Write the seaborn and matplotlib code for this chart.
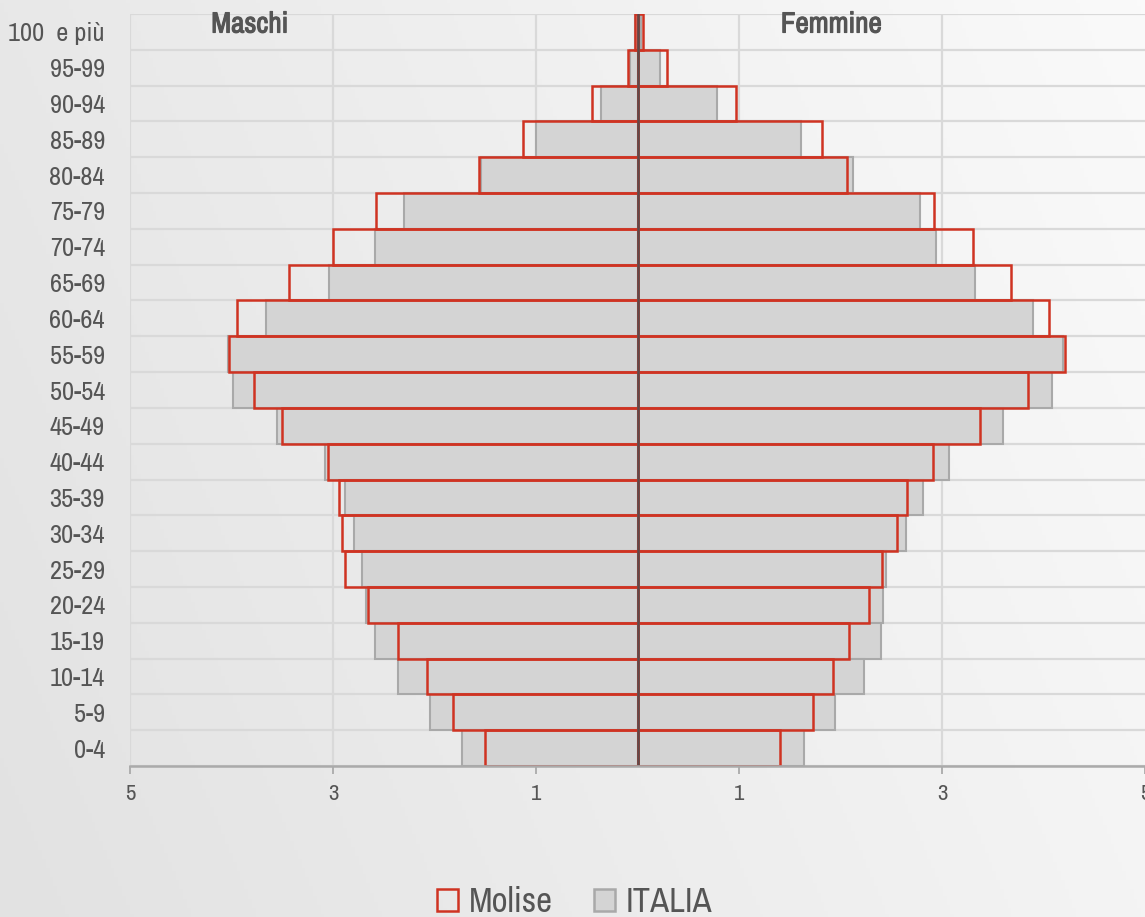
import numpy as np
import pandas as pd
import matplotlib
matplotlib.use("Agg")
import matplotlib.pyplot as plt
import matplotlib.patheffects as pe
from matplotlib import font_manager
from matplotlib.colors import LinearSegmentedColormap
from matplotlib.patches import Patch
import seaborn as sns

# classi di eta (dall'alto verso il basso)
eta = ['100  e più', '95-99', '90-94', '85-89', '80-84', '75-79', '70-74',
       '65-69', '60-64', '55-59', '50-54', '45-49', '40-44', '35-39',
       '30-34', '25-29', '20-24', '15-19', '10-14', '5-9', '0-4']

# percentuali
italia_maschi = [0.02, 0.07, 0.36, 1.00, 1.54, 2.30, 2.59, 3.04, 3.66, 4.03, 3.99,
                 3.55, 3.08, 2.88, 2.79, 2.71, 2.67, 2.59, 2.36, 2.04, 1.73]
italia_femmine = [0.03, 0.22, 0.78, 1.61, 2.12, 2.78, 2.94, 3.33, 3.90, 4.19, 4.08,
                  3.60, 3.07, 2.81, 2.65, 2.45, 2.42, 2.40, 2.23, 1.95, 1.64]
molise_maschi = [0.02, 0.09, 0.45, 1.13, 1.56, 2.58, 3.00, 3.43, 3.95, 4.02, 3.78,
                 3.50, 3.05, 2.94, 2.91, 2.88, 2.66, 2.36, 2.07, 1.82, 1.50]
molise_femmine = [0.05, 0.29, 0.97, 1.82, 2.06, 2.92, 3.31, 3.68, 4.05, 4.21, 3.85,
                  3.37, 2.91, 2.66, 2.56, 2.41, 2.28, 2.08, 1.93, 1.73, 1.40]

tick_pos = [-5, -3, -1, 1, 3, 5]
tick_lab = ['5', '3', '1', '1', '3', '5']

ROSSO = '#cf3322'
GRIGIO = '#d4d4d4'
BORDO = '#a9a9a9'
TESTO = '#555555'

# cerca un font stretto (tipo Arial Narrow), altrimenti Liberation Sans piu piccolo
nomi = sorted({f.name for f in font_manager.fontManager.ttflist})
stretti = [n for n in nomi if 'Narrow' in n] + [n for n in nomi if 'Condensed' in n]
if stretti:
    FONT = [stretti[0], 'DejaVu Sans']
    k = 1.0
else:
    FONT = ['Liberation Sans', 'DejaVu Sans']
    k = 0.8

sns.set_style('white')
plt.rcParams['font.family'] = FONT

fig = plt.figure(figsize=(11.45, 9.17), dpi=100)

# sfondo sfumato
bg = fig.add_axes([0, 0, 1, 1], zorder=-10)
xx, yy = np.meshgrid(np.linspace(0, 1, 300), np.linspace(0, 1, 300))
grad = 0.75 * xx + 0.25 * (1 - yy)
cmap = LinearSegmentedColormap.from_list('bg', ['#e2e2e2', '#fafafa'])
bg.imshow(grad, cmap=cmap, aspect='auto', extent=[0, 1, 0, 1])
bg.axis('off')

ax = fig.add_axes([130 / 1145, 1 - 766 / 917, 1015 / 1145, 752 / 917])
ax.set_facecolor('none')

df = pd.DataFrame({'eta': eta,
                   'it_m': -np.array(italia_maschi), 'it_f': italia_femmine,
                   'mo_m': -np.array(molise_maschi), 'mo_f': molise_femmine})

for col in ['it_m', 'it_f']:
    sns.barplot(data=df, x=col, y='eta', order=eta, orient='y', width=1.0,
                color=GRIGIO, edgecolor=BORDO, linewidth=1.5, saturation=1,
                errorbar=None, ax=ax, zorder=2)
for col in ['mo_m', 'mo_f']:
    sns.barplot(data=df, x=col, y='eta', order=eta, orient='y', width=1.0,
                color=ROSSO, fill=False, linewidth=1.8, saturation=1,
                errorbar=None, ax=ax, zorder=3)

# griglia
for i in range(len(eta) + 1):
    ax.axhline(i - 0.5, color='#d9d9d9', lw=1.6, zorder=1)
for v in [-5, -3, -1, 1, 3]:
    ax.axvline(v, color='#d9d9d9', lw=1.6, zorder=1)
ax.axvline(0, color='#5e4a4a', lw=1.8, zorder=5)

ax.set_xlim(-5, 5)
ax.set_ylim(len(eta) - 0.5, -0.5)
ax.set_xticks(tick_pos)
ax.set_xticklabels(tick_lab)
ax.set_xlabel('')
ax.set_ylabel('')
for s in ['top', 'right', 'left']:
    ax.spines[s].set_visible(False)
ax.spines['bottom'].set_color('#aaaaaa')
ax.spines['bottom'].set_linewidth(1.8)
ax.spines['bottom'].set_zorder(6)
ax.tick_params(axis='x', length=6, width=1.3, color='#aaaaaa', labelsize=16.5 * k,
               labelcolor=TESTO, pad=7, direction='out', bottom=True)
ax.tick_params(axis='y', length=0, labelsize=19 * k, labelcolor=TESTO, pad=18)

# grassetto simulato con un contorno sottile
grassetto = [pe.withStroke(linewidth=0.8, foreground=TESTO)]
ax.text(-3.82, -0.22, 'Maschi', ha='center', va='center', fontsize=21 * k,
        fontweight='bold', color=TESTO, zorder=6, path_effects=grassetto)
ax.text(1.91, -0.22, 'Femmine', ha='center', va='center', fontsize=21 * k,
        fontweight='bold', color=TESTO, zorder=6, path_effects=grassetto)

handles = [Patch(facecolor='none', edgecolor=ROSSO, linewidth=1.8, label='Molise'),
           Patch(facecolor=GRIGIO, edgecolor=BORDO, linewidth=1.8, label='ITALIA')]
fig.legend(handles=handles, loc='center', bbox_to_anchor=(0.502, 0.016), ncol=2,
           frameon=False, fontsize=25 * k, labelcolor=TESTO, handlelength=0.6 / k,
           handleheight=0.6 / k, handletextpad=0.3, columnspacing=1.2)

fig.savefig('out.png', dpi=100)
